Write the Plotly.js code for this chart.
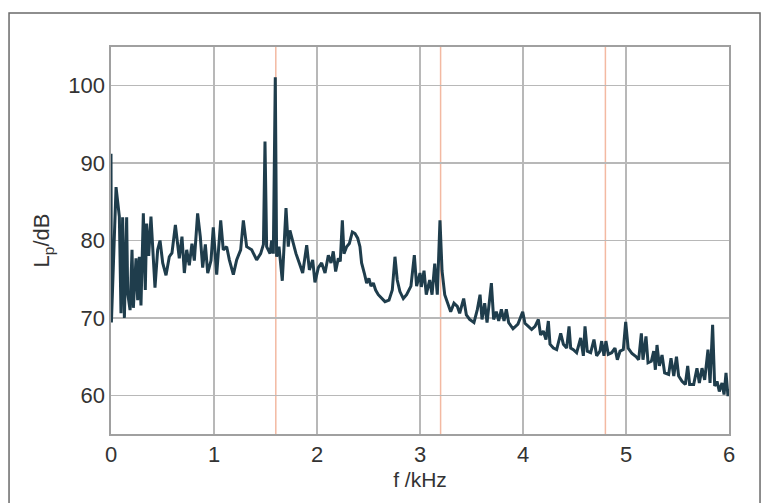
<!DOCTYPE html>
<html>
<head>
<meta charset="utf-8">
<script src="https://cdn.plot.ly/plotly-3.0.1.min.js"></script>
<style>html,body{margin:0;padding:0;background:#fff;}#chart{width:775px;height:503px;}</style>
</head>
<body>
<div id="chart"></div>
<script>
const freqKHz = [0,0.004,0.049,0.081,0.097,0.113,0.13,0.152,0.162,0.185,0.204,0.217,0.243,0.259,0.275,0.291,0.314,0.333,0.346,0.366,0.388,0.405,0.427,0.453,0.476,0.502,0.534,0.566,0.592,0.625,0.647,0.663,0.689,0.712,0.735,0.76,0.786,0.809,0.841,0.867,0.89,0.916,0.939,0.971,0.993,1.026,1.065,1.09,1.123,1.149,1.188,1.22,1.259,1.285,1.317,1.366,1.414,1.453,1.48,1.495,1.511,1.544,1.56,1.576,1.595,1.608,1.631,1.663,1.699,1.721,1.737,1.763,1.796,1.828,1.861,1.9,1.926,1.958,1.98,2.013,2.045,2.078,2.11,2.136,2.158,2.181,2.207,2.226,2.246,2.262,2.288,2.314,2.343,2.369,2.395,2.417,2.433,2.459,2.482,2.504,2.524,2.547,2.569,2.595,2.628,2.66,2.699,2.731,2.757,2.779,2.805,2.838,2.87,2.912,2.945,2.967,3.0,3.013,3.039,3.061,3.094,3.117,3.143,3.168,3.194,3.214,3.24,3.272,3.298,3.33,3.362,3.385,3.424,3.45,3.482,3.524,3.557,3.583,3.602,3.628,3.651,3.693,3.715,3.741,3.764,3.79,3.816,3.838,3.861,3.903,3.951,3.997,4.019,4.052,4.084,4.117,4.149,4.171,4.197,4.223,4.246,4.262,4.295,4.327,4.366,4.392,4.424,4.447,4.463,4.489,4.521,4.56,4.586,4.602,4.624,4.657,4.689,4.715,4.747,4.764,4.786,4.805,4.828,4.861,4.893,4.916,4.942,4.974,4.997,5.021,5.058,5.097,5.123,5.149,5.165,5.194,5.214,5.246,5.269,5.285,5.301,5.324,5.35,5.375,5.414,5.437,5.464,5.49,5.511,5.544,5.576,5.599,5.618,5.657,5.689,5.712,5.738,5.764,5.796,5.816,5.841,5.861,5.884,5.906,5.932,5.952,5.971,5.99,6.0];
const levelDB = [91.2,69.4,86.9,83.1,70.6,83,70,83,73.2,71.0,78.8,71.3,77.7,72.3,77.9,71.6,83.5,73.6,82.2,78,83.1,79.5,73.9,78.8,80,77.1,75.5,77.9,78.4,82,79.5,77.7,80.5,75.8,78.8,76.8,79.6,77.4,83.5,80.5,76.5,79.5,75.8,77.4,81.7,75.6,82.6,78.8,79.2,77.5,75.6,77.5,78.8,82.6,79.2,78.8,77.5,78.3,79.5,92.8,79.2,78.3,80.0,78.3,101.1,77.9,79.2,74.8,84.2,79.2,81.3,80,78.3,77.1,75.8,79.4,76.2,77.5,74.6,76.5,77.1,75.8,78.1,77.1,78.6,76.0,77.7,77.3,82.6,78.3,79.2,79.6,81.1,80.9,80.3,79.2,77.1,75.8,74.5,75.1,74.1,74.5,73.6,73.0,72.5,72.1,72.3,73.6,77.9,74.9,73.4,72.5,73.0,74.1,78.1,74.1,75.8,74.0,76.1,73.0,74.9,73.0,77.0,73.0,82.6,76.1,73.0,71.7,70.8,71.9,71.5,70.6,72.5,70.4,69.8,69.4,71.1,73.0,69.8,71.9,69.4,74.5,69.8,70.8,69.6,71.1,69.6,71.1,69.4,68.6,69.2,70.8,69.3,68.9,68.5,68.9,69.8,67.8,68.3,67.2,69.6,66.6,66.1,65.9,68.0,66.6,66.1,68.9,66.1,65.9,65.5,67.4,65.1,68.9,65.7,65.5,67.2,65.1,65.7,67.0,65.1,67.0,65.3,65.5,66.1,64.6,65.7,65.9,69.5,66.1,65.4,65.0,64.6,68.0,64.6,67.6,64.2,64.4,65.7,63.3,66.5,63.8,65.2,62.9,62.7,64.8,62.5,65.0,62.5,61.8,61.4,63.8,61.4,61.4,63.5,61.6,63.5,62.0,65.9,61.6,69.1,61.2,61.8,60.5,61.6,60.1,62.9,59.9,60.8];
const xTicks = [0,1,2,3,4,5,6];
const yTicks = [60,70,80,90,100];
const markerFreqs = [1.6,3.2,4.8];

const shapes = markerFreqs.map(f => ({
  type:'line', xref:'x', yref:'paper', x0:f, x1:f, y0:0, y1:1,
  line:{color:'#f3b9a2', width:1.5}, layer:'below'
}));
shapes.push({
  type:'rect', xref:'paper', yref:'paper',
  x0:-0.165, x1:1.0502, y0:-0.185, y1:1.0879,
  line:{color:'#6a6a6a', width:1.5}, fillcolor:'rgba(0,0,0,0)', layer:'below'
});

const trace = {
  x: freqKHz, y: levelDB, type:'scatter', mode:'lines',
  line:{color:'#1f3d4c', width:3}, hoverinfo:'skip'
};

const font = {family:'"Liberation Sans", Arial, sans-serif', color:'#333', size:22};
const layout = {
  width:775, height:503,
  margin:{l:111, r:46, t:47, b:69},
  paper_bgcolor:'#fff', plot_bgcolor:'#fff',
  showlegend:false,
  font: font,
  xaxis:{
    range:[0,6], tickvals:xTicks, ticktext:xTicks.map(String),
    showgrid:true, gridcolor:'#b8b8b8', gridwidth:1.4,
    showline:true, mirror:true, linecolor:'#a0a0a0', linewidth:1.6,
    zeroline:false, ticks:'', tickfont:{size:22, color:'#333'},
    title:{text:'f /kHz', font:{size:21, color:'#333'}, standoff:6}
  },
  yaxis:{
    range:[55,105], tickvals:yTicks, ticktext:yTicks.map(String),
    showgrid:true, gridcolor:'#b8b8b8', gridwidth:1.4,
    showline:true, mirror:true, linecolor:'#a0a0a0', linewidth:1.6,
    zeroline:false, ticks:'', tickfont:{size:22, color:'#333'},
    title:{text:'L<sub>p</sub>/dB', font:{size:22, color:'#333'}, standoff:12}
  },
  shapes: shapes
};
Plotly.newPlot('chart', [trace], layout, {staticPlot:true, displayModeBar:false});
</script>
</body>
</html>
